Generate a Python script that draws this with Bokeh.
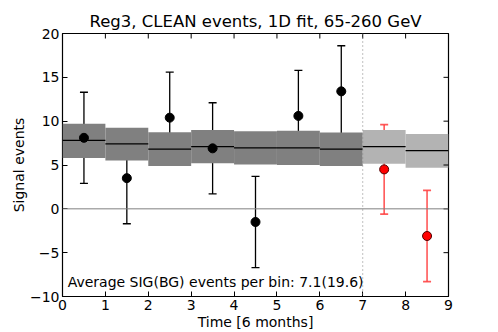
import math
from bokeh.plotting import figure
from bokeh.models import Span, Whisker, ColumnDataSource, FixedTicker, Label
from bokeh.embed import file_html
from bokeh.resources import INLINE

# data
bin_left = [0, 1, 2, 3, 4, 5, 6, 7, 8]
fit_center = [7.8, 7.4, 6.8, 7.1, 6.95, 6.95, 6.8, 7.1, 6.65]
fit_low = [5.8, 5.5, 4.9, 5.2, 5.05, 5.0, 4.9, 5.15, 4.7]
fit_high = [9.7, 9.25, 8.75, 9.0, 8.85, 8.9, 8.7, 9.0, 8.55]

x_obs = [0.5, 1.5, 2.5, 3.5, 4.5, 5.5, 6.5]
y_obs = [8.1, 3.5, 10.4, 6.9, -1.5, 10.6, 13.4]
err_obs = [5.2, 5.2, 5.2, 5.2, 5.2, 5.2, 5.2]

x_blind = [7.5, 8.5]
y_blind = [4.5, -3.1]
err_blind = [5.1, 5.2]

split_x = 7
y_ticks = [-10, -5, 0, 5, 10, 15, 20]
x_ticks = [0, 1, 2, 3, 4, 5, 6, 7, 8, 9]
x_lim = (0, 9)
y_lim = (-10, 20)

FONT = "DejaVu Sans"

p = figure(width=498, height=332, x_range=x_lim, y_range=y_lim,
           output_backend="svg", toolbar_location=None,
           min_border_left=62, min_border_right=50, min_border_top=33, min_border_bottom=34)
p.title.text = "Reg3, CLEAN events, 1D fit, 65-260 GeV"
p.title.align = "center"
p.title.text_font = FONT
p.title.text_font_size = "16.5px"
p.title.text_font_style = "normal"
p.title.text_color = "black"
p.title.offset = 0
p.title.standoff = 5
p.grid.visible = False
p.outline_line_color = "black"
p.outline_line_width = 1.2
p.background_fill_color = "white"

for ax in (p.xaxis[0], p.yaxis[0]):
    ax.major_tick_in = 5
    ax.major_tick_out = 0
    ax.major_tick_line_color = "black"
    ax.minor_tick_line_color = None
    ax.major_label_text_font = FONT
    ax.major_label_text_font_size = "14px"
    ax.major_label_text_color = "black"
    ax.axis_label_text_font = FONT
    ax.axis_label_text_font_size = "14px"
    ax.axis_label_text_font_style = "normal"
    ax.axis_label_text_color = "black"
    ax.axis_line_color = None
    ax.major_label_standoff = 3
    ax.axis_label_standoff = 1

p.xaxis.ticker = FixedTicker(ticks=x_ticks)
p.yaxis.ticker = FixedTicker(ticks=y_ticks)
p.yaxis.major_label_overrides = {v: (str(v).replace("-", "\u2212")) for v in y_ticks}
p.xaxis.axis_label = "Time [6 months]"
p.yaxis.axis_label = "Signal events"
p.yaxis.axis_label_standoff = 0

# fit bands
n_obs = len(x_obs)
band_colors = ["#808080"] * n_obs + ["#b3b3b3"] * (len(bin_left) - n_obs)
bands = ColumnDataSource(dict(
    left=bin_left, right=[b + 1 for b in bin_left],
    bottom=fit_low, top=fit_high, center=fit_center, color=band_colors))
p.quad(left="left", right="right", bottom="bottom", top="top", source=bands,
       fill_color="color", line_color=None)
p.segment(x0="left", x1="right", y0="center", y1="center", source=bands,
          line_color="black", line_width=1.2)

p.add_layout(Span(location=0, dimension="width", line_color="#808080", line_width=1))
p.add_layout(Span(location=split_x, dimension="height", line_color="#808080",
                  line_width=1, line_dash="1 3"))

# mirrored ticks on top and right edges (half of each dash is clipped by the frame)
p.scatter(x=x_ticks, y=[y_lim[1]] * len(x_ticks), marker="dash", angle=math.pi / 2,
          size=10, line_color="black", line_width=1)
p.scatter(x=[x_lim[1]] * len(y_ticks), y=y_ticks, marker="dash",
          size=10, line_color="black", line_width=1)

# observed points
obs = ColumnDataSource(dict(x=x_obs, y=y_obs,
                            lo=[y - e for y, e in zip(y_obs, err_obs)],
                            hi=[y + e for y, e in zip(y_obs, err_obs)]))
w1 = Whisker(base="x", lower="lo", upper="hi", source=obs, line_color="black", line_width=1.3)
w1.upper_head.size = 8
w1.lower_head.size = 8
w1.upper_head.line_color = "black"
w1.lower_head.line_color = "black"
w1.upper_head.line_width = 1.3
w1.lower_head.line_width = 1.3
p.add_layout(w1)
p.scatter("x", "y", source=obs, size=9, fill_color="black", line_color="black")

bl = ColumnDataSource(dict(x=x_blind, y=y_blind,
                           lo=[y - e for y, e in zip(y_blind, err_blind)],
                           hi=[y + e for y, e in zip(y_blind, err_blind)]))
red_bar = "#ff3b3b"
w2 = Whisker(base="x", lower="lo", upper="hi", source=bl, line_color=red_bar,
             line_width=1.6, line_alpha=0.85)
w2.upper_head.size = 8
w2.lower_head.size = 8
w2.upper_head.line_color = red_bar
w2.lower_head.line_color = red_bar
w2.upper_head.line_width = 1.6
w2.lower_head.line_width = 1.6
w2.upper_head.line_alpha = 0.85
w2.lower_head.line_alpha = 0.85
p.add_layout(w2)
p.scatter("x", "y", source=bl, size=9, fill_color="red", line_color="#500000")

p.add_layout(Label(x=0.12, y=-8.3, text="Average SIG(BG) events per bin: 7.1(19.6)",
                   text_font=FONT, text_font_size="14px", text_baseline="middle",
                   text_color="black"))

open("out.html", "w").write(file_html(p, INLINE))
